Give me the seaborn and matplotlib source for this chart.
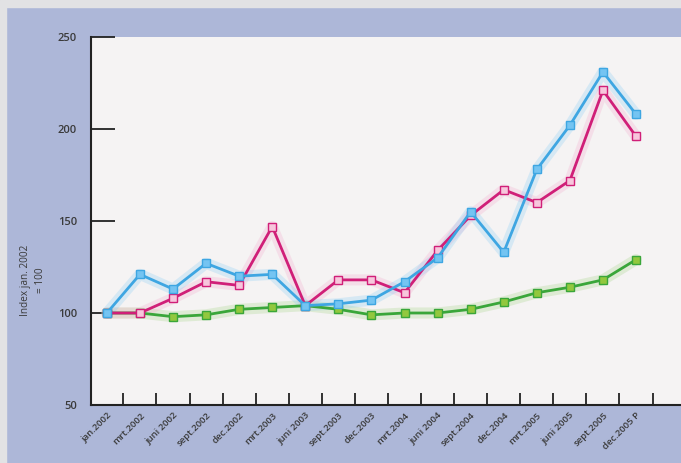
import matplotlib
matplotlib.use("Agg")
import matplotlib.pyplot as plt
import seaborn as sns
import pandas as pd
import numpy as np

categories = ["jan.2002", "mrt.2002", "juni 2002", "sept.2002", "dec.2002",
              "mrt.2003", "juni 2003", "sept.2003", "dec.2003", "mrt.2004",
              "juni 2004", "sept.2004", "dec.2004", "mrt.2005", "juni 2005",
              "sept.2005", "dec.2005 P"]
blue = [100, 121, 113, 127, 120, 121, 104, 105, 107, 117, 130, 155, 133, 178, 202, 231, 208]
pink = [100, 100, 108, 117, 115, 147, 104, 118, 118, 111, 134, 153, 167, 160, 172, 221, 196]
green = [100, 100, 98, 99, 102, 103, 104, 102, 99, 100, 100, 102, 106, 111, 114, 118, 129]
yticks = [50, 100, 150, 200, 250]

series = {"blue": blue, "pink": pink, "green": green}
rows = []
for name, vals in series.items():
    for i, v in enumerate(vals):
        rows.append({"pos": i, "value": v, "series": name})
df = pd.DataFrame(rows)

line_colors = {"blue": "#3ea6e2", "pink": "#d01f78", "green": "#3aa63a"}
face_colors = {"blue": "#74c4f2", "pink": "#f7c6dc", "green": "#92c83e"}
glow_colors = {"blue": "#7cc8f4", "pink": "#f2a2c8", "green": "#9ad07a"}

sns.set_theme(style="white")
plt.rcParams['font.family'] = ['Open Sans', 'DejaVu Sans']

fig = plt.figure(figsize=(6.81, 4.63), dpi=100)
fig.patch.set_facecolor("#adb7d8")
fig.add_artist(plt.Rectangle((0, 1 - 7 / 463), 1, 7 / 463, transform=fig.transFigure,
                             color="#e2e2e4", zorder=0))
fig.add_artist(plt.Rectangle((0, 0), 6 / 681, 1, transform=fig.transFigure,
                             color="#e2e2e4", zorder=0))

ax = fig.add_axes([91 / 681, 1 - 405 / 463, (681 - 91) / 681, (405 - 37) / 463])
ax.set_facecolor("#f5f3f3")

order = ["green", "pink", "blue"]
for name in order:
    sub = df[df["series"] == name]
    sns.lineplot(data=sub, x="pos", y="value", ax=ax, color=glow_colors[name],
                 linewidth=8, alpha=0.25, legend=False, zorder=2)
for name in order:
    sub = df[df["series"] == name]
    sns.lineplot(data=sub, x="pos", y="value", ax=ax, color=line_colors[name],
                 linewidth=2.0, marker="s", markersize=6,
                 markerfacecolor=face_colors[name], markeredgecolor=line_colors[name],
                 markeredgewidth=1.0, legend=False, zorder=3)

ax.set_xlim(-0.48, 17.36)
ax.set_ylim(50, 250)
ax.set_xlabel("")
ax.set_ylabel("")

for s in ["top", "right"]:
    ax.spines[s].set_visible(False)
for s in ["left", "bottom"]:
    ax.spines[s].set_color("#222222")
    ax.spines[s].set_linewidth(1.5)

ax.set_yticks(yticks)
ax.set_yticklabels([str(v) for v in yticks], fontsize=8, color="#3a3a3a", fontweight="semibold")
ax.tick_params(axis="y", direction="in", length=17, width=1.3, color="#222222", pad=10, left=True)

ax.set_xticks(np.arange(len(categories)) + 0.5)
ax.set_xticklabels([])
ax.tick_params(axis="x", which="major", direction="in", length=9, width=1.3, color="#222222", bottom=True)
ax.set_xticks(np.arange(len(categories)), minor=True)
ax.set_xticklabels(categories, minor=True, rotation=45, ha="right", va="top",
                   rotation_mode="anchor", fontsize=6.8, color="#3a3a3a", fontweight="semibold")
ax.tick_params(axis="x", which="minor", length=0, pad=4)

fig.text(33 / 681, 1 - 280 / 463, "Index jan. 2002\n= 100", rotation=90,
         ha="center", va="center", fontsize=7.2, color="#3a3a3a", linespacing=1.5,
         multialignment="center")

fig.savefig("out.png", dpi=100, facecolor=fig.get_facecolor())
